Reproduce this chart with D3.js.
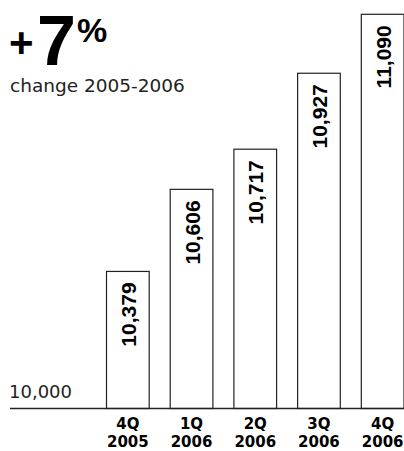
<!DOCTYPE html>
<html>
<head>
<meta charset="utf-8">
<script src="https://cdn.jsdelivr.net/npm/d3@7"></script>
<style>
  html, body { margin: 0; padding: 0; background: #fff; }
  svg { display: block; }
</style>
</head>
<body>
<svg id="chart" width="404" height="451"></svg>
<script>
// Quarterly values, in thousands
const quarters = ["4Q", "1Q", "2Q", "3Q", "4Q"];
const years = ["2005", "2006", "2006", "2006", "2006"];
const values = [10379, 10606, 10717, 10927, 11090];
const baseValue = 10000;
const baseLabel = "10,000";

const data = values.map((v, i) => ({ key: i, q: quarters[i], yr: years[i], v }));

const svg = d3.select("#chart");
const fmt = d3.format(",");

const x = d3.scaleBand()
  .domain(data.map(d => d.key))
  .range([95.5, 414])
  .paddingInner(0.33)
  .paddingOuter(0.165);

const y = d3.scaleLinear()
  .domain([baseValue, d3.max(values)])
  .range([408.5, 14.3]);

// Headline
const head = svg.append("g").attr("fill", "#000")
  .attr("font-family", "'Liberation Sans', Arial, sans-serif")
  .attr("font-weight", "bold");
head.append("text").attr("x", 9).attr("y", 57).attr("font-size", 42).text("+");
head.append("text").attr("x", 37).attr("y", 65).attr("font-size", 70).text("7");
head.append("text").attr("x", 77).attr("y", 42).attr("font-size", 34).text("%");

svg.append("text")
  .attr("x", 10).attr("y", 92)
  .attr("font-family", "'DejaVu Sans', sans-serif")
  .attr("font-size", 18.5)
  .attr("fill", "#222")
  .text("change 2005-2006");

// Bars
const bars = svg.append("g");
bars.selectAll("rect")
  .data(data)
  .join("rect")
  .attr("x", d => x(d.key) + 0.5)
  .attr("y", d => y(d.v))
  .attr("width", x.bandwidth())
  .attr("height", d => y(baseValue) - y(d.v))
  .attr("fill", "#fff")
  .attr("stroke", "#222")
  .attr("stroke-width", 1.2);

// Value labels, rotated inside each bar
bars.selectAll("text")
  .data(data)
  .join("text")
  .attr("transform", d => `translate(${x(d.key) + x.bandwidth() / 2 + 8.5},${y(d.v) + 11}) rotate(-90)`)
  .attr("text-anchor", "end")
  .attr("font-family", "'Liberation Sans', Arial, sans-serif")
  .attr("font-weight", "bold")
  .attr("font-size", 21)
  .attr("fill", "#000")
  .text(d => fmt(d.v));

// Baseline
svg.append("line")
  .attr("x1", 10).attr("x2", 404)
  .attr("y1", y(baseValue)).attr("y2", y(baseValue))
  .attr("stroke", "#222")
  .attr("stroke-width", 1.6);

svg.append("text")
  .attr("x", 9).attr("y", 398)
  .attr("font-family", "'DejaVu Sans', sans-serif")
  .attr("font-size", 18)
  .attr("fill", "#222")
  .text(baseLabel);

// Category labels: quarter above year
const cats = svg.append("g")
  .attr("font-family", "'DejaVu Sans', sans-serif")
  .attr("font-weight", "bold")
  .attr("font-size", 15)
  .attr("text-anchor", "middle")
  .attr("fill", "#000");
const cx = d => x(d.key) + x.bandwidth() / 2 + 0.5;
cats.selectAll("text.q")
  .data(data)
  .join("text")
  .attr("class", "q")
  .attr("x", cx).attr("y", 428.5)
  .text(d => d.q);
cats.selectAll("text.yr")
  .data(data)
  .join("text")
  .attr("class", "yr")
  .attr("x", cx).attr("y", 446.5)
  .text(d => d.yr);
</script>
</body>
</html>
